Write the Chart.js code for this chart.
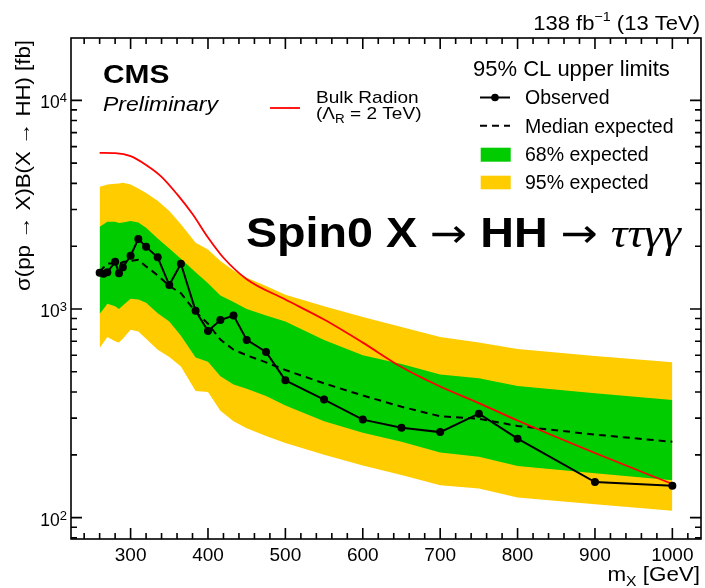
<!DOCTYPE html>
<html>
<head>
<meta charset="utf-8">
<script src="https://cdn.jsdelivr.net/npm/chart.js@4.4.1/dist/chart.umd.min.js"></script>
<style>
  body { margin: 0; background: #fff; }
  canvas { display: block; }
</style>
</head>
<body>
<canvas id="limits" width="705" height="588"></canvas>
<script>
// mass points of the limit scan [GeV]
const masses = [260, 265, 270, 280, 285, 290, 300, 310, 320, 335, 350, 365, 384, 400, 416, 433, 450, 475, 500, 550, 600, 650, 700, 750, 800, 900, 1000];

// 95% CL upper limits [fb]
const observed = [1490, 1475, 1500, 1683, 1485, 1585, 1800, 2168, 1985, 1770, 1303, 1648, 981, 785, 885, 931, 711, 622, 455, 368, 295, 270, 257, 315, 239, 148, 142];
const expected = [1510, 1580, 1650, 1650, 1640, 1680, 1700, 1720, 1600, 1450, 1290, 1190, 970, 850, 713, 638, 600, 555, 510, 440, 385, 340, 306, 298, 275, 250, 231];
const plus1 = [2480, 2550, 2620, 2620, 2580, 2600, 2640, 2600, 2450, 2180, 1950, 1740, 1500, 1330, 1160, 1080, 1000, 930, 870, 710, 600, 545, 485, 466, 427, 395, 366];
const minus1 = [950, 1000, 1060, 1030, 1000, 1040, 1120, 1110, 1070, 955, 870, 745, 585, 558, 476, 435, 415, 383, 345, 290, 255, 231, 205, 196, 177, 163, 151];
const plus2 = [3850, 3900, 3950, 3980, 4000, 4030, 3950, 3780, 3600, 3300, 2950, 2550, 2080, 1930, 1700, 1530, 1410, 1290, 1170, 1030, 915, 820, 735, 690, 643, 595, 555];
const minus2 = [650, 690, 735, 700, 690, 720, 795, 780, 720, 638, 588, 530, 405, 400, 325, 290, 268, 246, 228, 200, 178, 160, 143, 138, 125, 116, 108];

// bulk radion cross section (Lambda_R = 2 TeV)
const radionMasses = [260, 280, 300, 320, 340, 360, 380, 400, 420, 450, 500, 550, 600, 650, 700, 750, 800, 900, 1000];
const radion = [5600, 5580, 5400, 4900, 4300, 3550, 2850, 2200, 1760, 1390, 1110, 890, 690, 527, 425, 354, 292, 204, 145];

// axis labels
const xTickLabels = [300, 400, 500, 600, 700, 800, 900, 1000];
const yTickLabels = [100, 1000, 10000];

const FONT = '"Liberation Sans", Arial, Helvetica, sans-serif';
const GREEN = '#00cc00';
const YELLOW = '#ffcc00';

function toPoints(xs, ys) {
  return xs.map((x, i) => ({ x: x, y: ys[i] }));
}

// a run is [text, font, yOffset]; lets us do super/subscripts
function runsWidth(ctx, runs) {
  let w = 0;
  runs.forEach(r => {
    ctx.font = r[1];
    w += ctx.measureText(r[0]).width;
  });
  return w;
}

function drawRuns(ctx, runs, x, y, sx, align) {
  let w = runsWidth(ctx, runs) * sx;
  let start = align === 'right' ? x - w : x;
  ctx.save();
  ctx.textAlign = 'left';
  ctx.textBaseline = 'alphabetic';
  ctx.translate(start, y);
  ctx.scale(sx, 1);
  let cx = 0;
  runs.forEach(r => {
    ctx.font = r[1];
    ctx.fillText(r[0], cx, r[2] || 0);
    cx += ctx.measureText(r[0]).width;
  });
  ctx.restore();
}

// frame, inward ticks, labels and the CMS style legend
const cmsDecor = {
  id: 'cmsDecor',
  afterDraw(chart) {
    let ctx = chart.ctx;
    let a = chart.chartArea;
    let xs = chart.scales.x;
    let ys = chart.scales.y;

    ctx.save();
    ctx.strokeStyle = '#000';
    ctx.fillStyle = '#000';
    ctx.lineWidth = 1.6;

    // frame
    ctx.strokeRect(a.left, a.top, a.right - a.left, a.bottom - a.top);

    // x ticks, major every 100, minor every 20
    ctx.beginPath();
    for (let m = 240; m <= 1020; m += 20) {
      let px = xs.getPixelForValue(m);
      let len = m % 100 === 0 ? 11 : 6;
      ctx.moveTo(px, a.bottom);
      ctx.lineTo(px, a.bottom - len);
      ctx.moveTo(px, a.top);
      ctx.lineTo(px, a.top + len);
    }
    // y ticks, decades and 2..9
    for (let d = 10; d <= 10000; d *= 10) {
      for (let k = 1; k <= 9; k++) {
        let v = k * d;
        if (v < ys.min || v > ys.max) continue;
        let py = ys.getPixelForValue(v);
        let len = k === 1 ? 11 : 6;
        ctx.moveTo(a.left, py);
        ctx.lineTo(a.left + len, py);
        ctx.moveTo(a.right, py);
        ctx.lineTo(a.right - len, py);
      }
    }
    ctx.stroke();

    // y tick labels as 10^n
    yTickLabels.forEach(v => {
      let py = ys.getPixelForValue(v);
      let exp = String(Math.round(Math.log10(v)));
      let expFont = '13px ' + FONT;
      let baseFont = '17.5px ' + FONT;
      ctx.font = expFont;
      let ew = ctx.measureText(exp).width;
      ctx.font = baseFont;
      let bw = ctx.measureText('10').width;
      let right = a.left - 4;
      drawRuns(ctx, [['10', baseFont, 0], [exp, expFont, -6]], right - ew - bw, py + 8, 1, 'left');
    });

    // axis titles
    drawRuns(ctx, [['m', '20px ' + FONT, 0], ['X', '14px ' + FONT, 5], [' [GeV]', '20px ' + FONT, 0]], 700, 581, 1.12, 'right');
    ctx.save();
    ctx.translate(30, 40);
    ctx.rotate(-Math.PI / 2);
    drawRuns(ctx, [['σ(pp → X)B(X → HH) [fb]', '19.5px ' + FONT, 0]], 0, 0, 1.14, 'right');
    ctx.restore();

    // lumi label
    drawRuns(ctx, [['138 fb', '20px ' + FONT, 0], ['−1', '13px ' + FONT, -9], [' (13 TeV)', '20px ' + FONT, 0]], 700, 29.5, 1.1, 'right');

    // CMS Preliminary
    drawRuns(ctx, [['CMS', 'bold 26px ' + FONT, 0]], 103, 83, 1.15, 'left');
    drawRuns(ctx, [['Preliminary', 'italic 20px ' + FONT, 0]], 103, 111, 1.15, 'left');

    // radion legend entry
    ctx.strokeStyle = '#ff0000';
    ctx.lineWidth = 1.8;
    ctx.beginPath();
    ctx.moveTo(270, 108);
    ctx.lineTo(300, 108);
    ctx.stroke();
    drawRuns(ctx, [['Bulk Radion', '17px ' + FONT, 0]], 316, 103, 1.12, 'left');
    drawRuns(ctx, [['(Λ', '17px ' + FONT, 0], ['R', '12px ' + FONT, 4], [' = 2 TeV)', '17px ' + FONT, 0]], 316, 119, 1.12, 'left');

    // limits legend
    let lf = '19.5px ' + FONT;
    drawRuns(ctx, [['95% CL upper limits', '22px ' + FONT, 0]], 473, 76, 1, 'left');
    drawRuns(ctx, [['Observed', lf, 0]], 525, 104, 1, 'left');
    drawRuns(ctx, [['Median expected', lf, 0]], 525, 132.5, 1, 'left');
    drawRuns(ctx, [['68% expected', lf, 0]], 525, 161, 1, 'left');
    drawRuns(ctx, [['95% expected', lf, 0]], 525, 189, 1, 'left');

    ctx.strokeStyle = '#000';
    ctx.lineWidth = 2;
    ctx.beginPath();
    ctx.moveTo(480, 97.5);
    ctx.lineTo(510, 97.5);
    ctx.stroke();
    ctx.beginPath();
    ctx.arc(495, 97.5, 3.8, 0, Math.PI * 2);
    ctx.fill();
    ctx.setLineDash([7, 5]);
    ctx.beginPath();
    ctx.moveTo(480, 125.7);
    ctx.lineTo(510, 125.7);
    ctx.stroke();
    ctx.setLineDash([]);
    ctx.fillStyle = GREEN;
    ctx.fillRect(480.7, 147.7, 30, 14);
    ctx.fillStyle = YELLOW;
    ctx.fillRect(480.7, 175.7, 30, 13.6);

    // process label, stretched to the width seen in the plot
    ctx.fillStyle = '#000';
    let bold = 'bold 42px ' + FONT;
    let arrow = '40px "DejaVu Sans", ' + FONT;
    let greek = 'italic 42px "Liberation Serif", "DejaVu Serif", serif';
    let proc = [['Spin0 X ', bold, 0], ['→', arrow, 0], [' HH ', bold, 0], ['→', arrow, 0], [' ', bold, 0], ['ττγγ', greek, 0]];
    let sx = 435 / runsWidth(ctx, proc);
    drawRuns(ctx, proc, 246, 247, sx, 'left');

    ctx.restore();
  }
};

function createLimitChart() {
  let context = document.getElementById('limits').getContext('2d');

  let clear = 'rgba(0,0,0,0)';

  return new Chart(context, {
    type: 'line',
    data: {
      datasets: [
        {
          label: 'Observed',
          data: toPoints(masses, observed),
          borderColor: '#000',
          backgroundColor: '#000',
          borderWidth: 2,
          pointRadius: 4,
          pointBorderWidth: 0,
          pointBackgroundColor: '#000',
          fill: false,
          order: 0
        },
        {
          label: 'Bulk Radion',
          data: toPoints(radionMasses, radion),
          borderColor: '#ff0000',
          borderWidth: 1.8,
          pointRadius: 0,
          cubicInterpolationMode: 'monotone',
          fill: false,
          order: 1
        },
        {
          label: 'Median expected',
          data: toPoints(masses, expected),
          borderColor: '#000',
          borderWidth: 2,
          borderDash: [7, 5],
          pointRadius: 0,
          fill: false,
          order: 2
        },
        {
          label: '68% expected',
          data: toPoints(masses, plus1),
          borderColor: clear,
          borderWidth: 0,
          backgroundColor: GREEN,
          pointRadius: 0,
          fill: '+1',
          order: 3
        },
        {
          label: '68% low',
          data: toPoints(masses, minus1),
          borderColor: clear,
          borderWidth: 0,
          pointRadius: 0,
          fill: false,
          order: 4
        },
        {
          label: '95% expected',
          data: toPoints(masses, plus2),
          borderColor: clear,
          borderWidth: 0,
          backgroundColor: YELLOW,
          pointRadius: 0,
          fill: '+1',
          order: 5
        },
        {
          label: '95% low',
          data: toPoints(masses, minus2),
          borderColor: clear,
          borderWidth: 0,
          pointRadius: 0,
          fill: false,
          order: 6
        }
      ]
    },
    options: {
      responsive: false,
      animation: false,
      devicePixelRatio: 1,
      layout: { padding: { top: 38, right: 2, left: 0, bottom: 0 } },
      plugins: {
        legend: { display: false },
        tooltip: { enabled: false }
      },
      scales: {
        x: {
          type: 'linear',
          min: 223,
          max: 1037,
          grid: { display: false, drawTicks: false },
          border: { display: false },
          afterBuildTicks: scale => {
            scale.ticks = xTickLabels.map(v => ({ value: v }));
          },
          afterFit: scale => { scale.height = 49; },
          ticks: {
            font: { family: FONT, size: 19 },
            color: '#000',
            padding: 5,
            maxRotation: 0,
            autoSkip: false,
            callback: v => String(v)
          }
        },
        y: {
          type: 'logarithmic',
          min: 79,
          max: 19900,
          grid: { display: false, drawTicks: false },
          border: { display: false },
          ticks: { display: false },
          afterFit: scale => { scale.width = 71; }
        }
      }
    },
    plugins: [cmsDecor]
  });
}

createLimitChart();
</script>
</body>
</html>
